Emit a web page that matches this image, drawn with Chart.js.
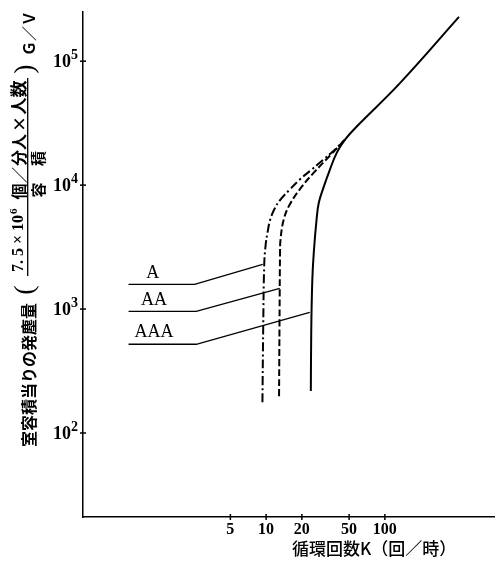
<!DOCTYPE html>
<html>
<head>
<meta charset="utf-8">
<script src="https://cdn.jsdelivr.net/npm/chart.js@4.4.1/dist/chart.umd.min.js"></script>
<style>
  html, body { margin: 0; padding: 0; background: #fff; }
</style>
</head>
<body>
<canvas id="dust-chart" width="496" height="561"></canvas>
<script>
// tick labels
const xTickValues = [5, 10, 20, 50, 100];
const xTickLabels = ['5', '10', '20', '50', '100'];
const yTickValues = [100, 1000, 10000, 100000];
const yTickExponents = ['2', '3', '4', '5'];

// class A (dash-dot)
const classAK = [9.31, 9.45, 9.64, 9.92, 10.31, 10.83, 11.7, 13.0, 15.8, 19.2, 24.1, 30.2, 37.9, 46.0];
const classAGV = [177, 687, 2290, 3320, 4220, 5280, 6350, 7500, 9200, 11100, 13300, 16000, 19300, 23200];
// class AA (dashed)
const classAAK = [12.85, 13.02, 13.1, 13.22, 14.07, 15.81, 19.96, 25.2, 35.7, 46.0];
const classAAGV = [198, 1468, 2860, 3640, 5280, 6970, 9720, 12600, 17900, 23200];
// class AAA (solid), runs on as the common line
const classAAAK = [23.8, 24.0, 24.5, 25.2, 26.6, 27.8, 30.6, 34.4, 39.4, 46.0, 57.7, 134, 421];
const classAAAGV = [218, 687, 1730, 2860, 5280, 7230, 9720, 13300, 18300, 23200, 29600, 66500, 227500];

// leader lines from the class names to the curves
const leaderAK = [0.694, 2.5, 9.36];
const leaderAGV = [1580, 1580, 2290];
const leaderAAK = [0.694, 2.58, 13.02];
const leaderAAGV = [958, 958, 1468];
const leaderAAAK = [0.694, 2.58, 23.3];
const leaderAAAGV = [520, 520, 940];

const classNames = ['A', 'AA', 'AAA'];

const toPoints = (xs, ys) => xs.map((x, i) => ({ x: x, y: ys[i] }));

function curve(name, xs, ys, dash) {
    return {
        label: name,
        data: toPoints(xs, ys),
        borderColor: '#000',
        borderWidth: 2,
        borderDash: dash,
        tension: 0.4,
        pointRadius: 0,
        fill: false
    };
}

function leader(name, xs, ys) {
    return {
        label: name,
        data: toPoints(xs, ys),
        borderColor: '#000',
        borderWidth: 1.3,
        tension: 0,
        pointRadius: 0,
        fill: false
    };
}

// ticks, tick labels, class names and axis titles
const decorations = {
    id: 'decorations',
    afterDraw(chart) {
        const ctx = chart.ctx;
        const xs = chart.scales.x;
        const ys = chart.scales.y;
        const area = chart.chartArea;
        ctx.save();
        ctx.strokeStyle = '#000';
        ctx.fillStyle = '#000';
        ctx.lineWidth = 1.5;

        // small cross ticks
        xTickValues.forEach(v => {
            const px = xs.getPixelForValue(v);
            ctx.beginPath();
            ctx.moveTo(px, area.bottom - 3);
            ctx.lineTo(px, area.bottom + 3);
            ctx.stroke();
        });
        yTickValues.forEach((v, i) => {
            const py = ys.getPixelForValue(v);
            ctx.beginPath();
            ctx.moveTo(area.left - 3, py);
            ctx.lineTo(area.left + 3, py);
            ctx.stroke();

            // 10 with raised exponent
            const right = area.left - 5;
            ctx.textAlign = 'right';
            ctx.textBaseline = 'alphabetic';
            ctx.font = 'bold 14px "Liberation Serif"';
            const expW = ctx.measureText(yTickExponents[i]).width;
            ctx.fillText(yTickExponents[i], right, py - 2);
            ctx.font = 'bold 18px "Liberation Serif"';
            ctx.fillText('10', right - expW, py + 6);
        });

        // class names
        const namePos = [[1.11, 2000], [1.135, 1197], [1.135, 665]];
        ctx.font = '18px "Liberation Serif"';
        ctx.textAlign = 'center';
        ctx.textBaseline = 'alphabetic';
        classNames.forEach((n, i) => {
            const px = xs.getPixelForValue(namePos[i][0]);
            const py = ys.getPixelForValue(namePos[i][1]);
            ctx.fillText(n, px, py + 6);
        });

        // x title
        ctx.font = '500 17px "Noto Sans CJK JP"';
        ctx.textAlign = 'left';
        ctx.textBaseline = 'middle';
        ctx.fillText('循環回数K（回／時）', 292, 549);

        // y title, rotated
        ctx.rotate(-Math.PI / 2);
        ctx.textBaseline = 'middle';
        ctx.textAlign = 'left';
        ctx.font = 'bold 16px "Noto Sans CJK JP"';
        ctx.fillText('室容積当りの発塵量', -447, 29);

        ctx.textAlign = 'center';
        ctx.font = '28px "Liberation Serif"';
        ctx.fillText('(', -290, 26);
        ctx.fillText(')', -69, 26);

        ctx.textAlign = 'left';
        ctx.font = 'bold 15px "Noto Sans CJK JP"';
        ctx.fillText('Ｇ／Ｖ', -56, 29);

        // numerator
        ctx.textAlign = 'left';
        ctx.font = 'bold 16px "Liberation Serif"';
        ctx.fillText('7. 5 × 10', -272, 19);
        const numW = ctx.measureText('7. 5 × 10').width;
        ctx.font = 'bold 11px "Liberation Serif"';
        ctx.fillText('6', -272 + numW + 1, 14);
        ctx.textAlign = 'center';
        ctx.font = 'bold 16px "Noto Sans CJK JP"';
        ctx.fillText('個', -191.5, 19);
        ctx.fillText('／', -175, 19);
        ctx.fillText('分人', -150, 19);
        ctx.fillText('×', -124, 19);
        ctx.font = 'bold 17px "Noto Sans CJK JP"';
        ctx.fillText('人数', -97.5, 19);

        // fraction bar
        ctx.lineWidth = 1.3;
        ctx.beginPath();
        ctx.moveTo(-276, 27.7);
        ctx.lineTo(-78, 27.7);
        ctx.stroke();

        // denominator
        ctx.font = 'bold 15px "Noto Sans CJK JP"';
        ctx.fillText('容', -190, 38.5);
        ctx.fillText('積', -158.5, 38.5);

        ctx.restore();
    }
};

const ctx = document.getElementById('dust-chart').getContext('2d');
const chart = new Chart(ctx, {
    type: 'line',
    data: {
        datasets: [
            curve('A', classAK, classAGV, [9, 3, 2, 3]),
            curve('AA', classAAK, classAAGV, [7, 3]),
            curve('AAA', classAAAK, classAAAGV, []),
            leader('A leader', leaderAK, leaderAGV),
            leader('AA leader', leaderAAK, leaderAAGV),
            leader('AAA leader', leaderAAAK, leaderAAAGV)
        ]
    },
    options: {
        responsive: false,
        animation: false,
        devicePixelRatio: 1,
        layout: { padding: { top: 12, right: 2, left: 0, bottom: 0 } },
        plugins: {
            legend: { display: false },
            tooltip: { enabled: false }
        },
        scales: {
            x: {
                type: 'logarithmic',
                min: 0.287,
                max: 830,
                bounds: 'data',
                grid: { display: false, drawTicks: false },
                border: { display: true, color: '#000', width: 1.5 },
                ticks: {
                    autoSkip: false,
                    maxRotation: 0,
                    padding: 3,
                    color: '#000',
                    font: { family: 'Liberation Serif', size: 16, weight: 'bold' },
                    callback: (v, i) => xTickLabels[i]
                },
                afterBuildTicks: s => { s.ticks = xTickValues.map(v => ({ value: v })); },
                afterFit: s => { s.height = 44; }
            },
            y: {
                type: 'logarithmic',
                min: 21,
                max: 249400,
                bounds: 'data',
                grid: { display: false, drawTicks: false },
                border: { display: true, color: '#000', width: 1.5 },
                ticks: { display: false },
                afterBuildTicks: s => { s.ticks = yTickValues.map(v => ({ value: v })); },
                afterFit: s => { s.width = 83; }
            }
        }
    },
    plugins: [decorations]
});
</script>
</body>
</html>
